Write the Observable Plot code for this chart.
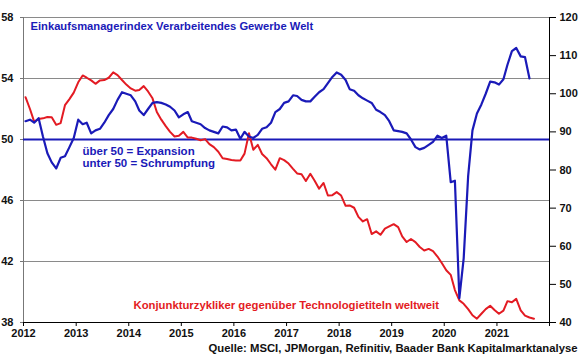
<!DOCTYPE html>
<html>
<head>
<meta charset="utf-8">
<script src="https://cdn.jsdelivr.net/npm/d3@7"></script>
<script src="https://cdn.jsdelivr.net/npm/@observablehq/plot@0.6"></script>
<style>
  html, body { margin: 0; padding: 0; background: #fff; }
  #chart svg { display: block; }
</style>
</head>
<body>
<div id="chart"></div>
<script>
// ---- data (monthly, starting January 2012) ----
const startYear = 2012;
// J.P. Morgan Global Manufacturing PMI (left axis)
const pmi = [
  51.2, 51.3, 51.1, 51.4, 50.2, 49.1, 48.5, 48.1, 48.8, 48.9, 49.5, 50.1,
  51.3, 51.0, 51.1, 50.4, 50.6, 50.7, 51.1, 51.6, 52.0, 52.6, 53.1, 53.0,
  52.9, 52.5, 51.9, 51.6, 52.0, 52.4, 52.45, 52.4, 52.3, 52.15, 51.9, 51.45,
  51.65, 51.8, 51.2, 51.1, 51.0, 50.75, 50.6, 50.5, 50.4, 50.85, 50.8, 50.6,
  50.65, 50.05, 50.5, 50.2, 50.1, 50.3, 50.7, 50.8, 51.1, 51.8, 52.0, 52.4,
  52.5, 52.9, 52.85, 52.6, 52.5, 52.5, 52.8, 53.1, 53.3, 53.7, 54.1, 54.4,
  54.25, 53.9, 53.3, 53.2, 52.9, 52.7, 52.55, 52.4, 51.95, 51.8, 51.6, 51.2,
  50.6, 50.55, 50.5, 50.4, 50.0, 49.5, 49.35, 49.45, 49.65, 49.85, 50.25, 50.1,
  50.25, 47.2, 47.3, 39.6, 42.2, 47.6, 50.6, 51.7, 52.3, 53.0, 53.8, 53.75,
  53.6, 53.95, 54.9, 55.8, 56.0, 55.45, 55.4, 54.0
];
// Cyclicals vs. technology stocks worldwide (right axis)
const ratio = [
  99.1, 96.0, 92.7, 93.35, 93.55, 93.9, 93.85, 91.85, 92.3, 97.0, 98.6, 100.3,
  103.0, 104.8, 104.2, 103.5, 102.6, 103.5, 103.6, 104.2, 105.6, 104.9, 103.6, 102.4,
  101.4, 100.8, 101.0, 102.0, 100.6, 98.8, 95.2, 93.2, 91.5, 90.0, 88.8, 89.0,
  90.0, 88.5, 88.5, 88.2, 87.8, 88.1, 86.8, 86.0, 84.8, 83.1, 82.9, 82.6,
  82.5, 82.5, 84.3, 89.65, 85.3, 86.6, 84.2, 83.1, 81.5, 80.1, 83.1, 82.6,
  81.7, 80.3, 79.1, 78.9, 77.1, 79.0, 77.2, 75.1, 76.6, 73.3, 73.4, 74.2,
  73.3, 70.6, 70.7, 70.1, 67.7, 66.5, 67.1, 63.2, 63.9, 63.0, 64.6, 65.2,
  65.8, 65.0, 62.6, 61.1, 61.9, 61.1, 59.8, 58.9, 59.3, 58.7, 57.3, 55.6,
  53.7, 52.5, 48.5, 45.8, 44.9, 43.5, 41.9, 41.0, 42.3, 43.5, 44.4, 43.3,
  42.3, 43.1, 45.6, 45.3, 46.2, 43.2, 41.8, 41.3, 41.0
];
const leftTicks = [38, 42, 46, 50, 54, 58];
const gridValues = [42, 46, 54];
const rightTicks = [40, 50, 60, 70, 80, 90, 100, 110, 120];
const yearTicks = [2012, 2013, 2014, 2015, 2016, 2017, 2018, 2019, 2020, 2021, 2022];
const yearLabels = ["2012", "2013", "2014", "2015", "2016", "2017", "2018", "2019", "2020", "2021"];
const leftDomain = [38, 58];
const rightDomain = [40, 120];

const titleText = "Einkaufsmanagerindex Verarbeitendes Gewerbe Welt";
const noteText = "über 50 = Expansion\nunter 50 = Schrumpfung";
const redLabel = "Konjunkturzykliker gegenüber Technologietiteln weltweit";
const sourceText = "Quelle: MSCI, JPMorgan, Refinitiv, Baader Bank Kapitalmarktanalyse";

// ---- helpers ----
const monthDate = (i) => new Date(Date.UTC(startYear, i, 15));
const toLeft = (v) => leftDomain[0] + (v - rightDomain[0]) * (leftDomain[1] - leftDomain[0]) / (rightDomain[1] - rightDomain[0]);
const fromLeft = (v) => rightDomain[0] + (v - leftDomain[0]) * (rightDomain[1] - rightDomain[0]) / (leftDomain[1] - leftDomain[0]);

const pmiData = pmi.map((v, i) => ({date: monthDate(i), value: v}));
const ratioData = ratio.map((v, i) => ({date: monthDate(i), value: toLeft(v)}));
const yearDates = yearTicks.map(y => new Date(Date.UTC(y, 0, 1)));
const x0 = yearDates[0], x1 = yearDates[yearDates.length - 1];

const BLUE = "#1a1ab8";
const RED = "#e31b23";
const FONT = "Liberation Sans, Arial, sans-serif";

const chart = Plot.plot({
  width: 580,
  height: 359,
  marginLeft: 23,
  marginRight: 31,
  marginTop: 17,
  marginBottom: 37,
  style: {fontFamily: FONT, background: "#fff", overflow: "visible"},
  x: {type: "utc", domain: [x0, x1], axis: null},
  y: {domain: leftDomain, axis: null},
  marks: [
    Plot.ruleY(gridValues, {stroke: "#8a8a8a", strokeWidth: 1}),
    Plot.ruleY([leftDomain[1]], {stroke: "#8a8a8a", strokeWidth: 1}),
    Plot.ruleX([x0], {stroke: "#777", strokeWidth: 1}),
    Plot.ruleX([x1], {stroke: "#000", strokeWidth: 1}),
    Plot.ruleY([leftDomain[0]], {stroke: "#000", strokeWidth: 1}),
    Plot.ruleY([50], {stroke: BLUE, strokeWidth: 2}),
    Plot.axisY(leftTicks, {anchor: "left", tickSize: 3, tickPadding: 7, fontSize: 11, fontWeight: "bold", fill: "#111", stroke: "#777", label: null}),
    Plot.axisY(rightTicks.map(toLeft), {anchor: "right", tickSize: 6, tickPadding: 4, fontSize: 11, fontWeight: "bold", fill: "#111", stroke: "#000", label: null, tickFormat: d => String(Math.round(fromLeft(d)))}),
    Plot.axisX(yearDates, {anchor: "bottom", tickSize: 4, tickPadding: 3, fontSize: 11, fontWeight: "bold", fill: "#111", stroke: "#000", label: null, tickFormat: (d, i) => yearLabels[i] ?? ""}),
    Plot.line(ratioData, {x: "date", y: "value", stroke: RED, strokeWidth: 2}),
    Plot.line(pmiData, {x: "date", y: "value", stroke: BLUE, strokeWidth: 2.2}),
    Plot.text([titleText], {frameAnchor: "top-left", dx: 7, dy: 8.5, lineAnchor: "middle", textAnchor: "start", fontSize: 11.2, fontWeight: "bold", fill: BLUE}),
    Plot.text([noteText], {frameAnchor: "top-left", dx: 59, dy: 128.5, lineAnchor: "top", textAnchor: "start", fontSize: 11.5, lineHeight: 1.05, fontWeight: "bold", fill: BLUE}),
    Plot.text([redLabel], {frameAnchor: "bottom-left", dx: 110, dy: -17, lineAnchor: "middle", textAnchor: "start", fontSize: 11.3, fontWeight: "bold", fill: RED}),
    Plot.text([sourceText], {frameAnchor: "bottom-right", dx: 28, dy: 26, lineAnchor: "middle", textAnchor: "end", fontSize: 11.3, fontWeight: "bold", fill: "#111"})
  ]
});
document.getElementById("chart").appendChild(chart);
</script>
</body>
</html>
